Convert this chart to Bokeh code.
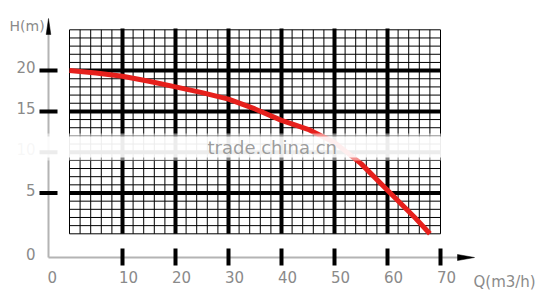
import numpy as np
from bokeh.plotting import figure
from bokeh.models import Range1d
from bokeh.core.properties import value
from bokeh.embed import file_html
from bokeh.resources import INLINE

# ---- data ----
flow = [0, 5, 10, 15, 20, 25, 30, 35, 40, 45, 50, 55, 60, 65, 68]          # Q (m3/h)
head = [20.0, 19.7, 19.3, 18.7, 18.0, 17.3, 16.5, 15.3, 13.9, 12.8, 11.2, 8.6, 5.35, 2.1, 0.0]  # H (m)
x_ticks = [10, 20, 30, 40, 50, 60, 70]
x_tick_labels = ["10", "20", "30", "40", "50", "60", "70"]
y_ticks = [5, 10, 15, 20]
y_tick_labels = ["5", "10", "15", "20"]
zero_label = "0"
x_title = "Q(m3/h)"
y_title = "H(m)"
watermark = "trade.china.cn"

# ---- geometry (pixels -> data) ----
W, H = 547, 308
px_per_q = 5.3
px_per_h = 8.16
x0_px, y0_px = 69.0, 233.3


def qx(px):
    return (px - x0_px) / px_per_q


def hy(py):
    return (y0_px - py) / px_per_h


p = figure(width=W, height=H, output_backend="svg", toolbar_location=None,
           x_range=Range1d(qx(0), qx(W)), y_range=Range1d(hy(H), hy(0)),
           min_border=0, min_border_left=0, min_border_right=0,
           min_border_top=0, min_border_bottom=0)
p.axis.visible = False
p.grid.visible = False
p.outline_line_color = None
p.background_fill_color = "white"
p.border_fill_color = "white"

q_max, h_max = 70, 25

# fine grid
fine_q = [q for q in range(0, q_max + 1, 2) if q % 10 != 0 or q in (0, q_max)]
fine_h = [h for h in range(0, h_max + 1) if h % 5 != 0 or h in (0, h_max)]
p.segment(x0=fine_q, y0=[0] * len(fine_q), x1=fine_q, y1=[h_max] * len(fine_q),
          line_color="black", line_width=1)
p.segment(x0=[0] * len(fine_h), y0=fine_h, x1=[q_max] * len(fine_h), y1=fine_h,
          line_color="black", line_width=1)

# thick grid
thick_q = [q for q in x_ticks if q < q_max]
p.segment(x0=thick_q, y0=[hy(28)] * len(thick_q), x1=thick_q, y1=[0] * len(thick_q),
          line_color="black", line_width=4)
p.segment(x0=[0] * len(y_ticks), y0=y_ticks, x1=[q_max] * len(y_ticks), y1=y_ticks,
          line_color="black", line_width=4)

# pump curve
p.line(flow, head, line_color="#e6201c", line_width=5)

# axes (gray) with arrows
ax_x, ax_y = qx(48), hy(257)
axis_col = "#b4b4b4"
p.segment(x0=[ax_x], y0=[ax_y], x1=[ax_x], y1=[hy(30)], line_color=axis_col, line_width=2)
p.segment(x0=[ax_x], y0=[ax_y], x1=[qx(458)], y1=[ax_y], line_color=axis_col, line_width=2)
p.patch([ax_x - 2.3 / px_per_q, ax_x, ax_x + 2.3 / px_per_q],
        [hy(34), hy(18), hy(34)], fill_color="black", line_color="black", line_width=0.5)
p.patch([qx(457), qx(474), qx(457)],
        [ax_y + 3 / px_per_h, ax_y, ax_y - 3 / px_per_h], fill_color="black",
        line_color="black", line_width=0.5)

# tick marks
p.segment(x0=[qx(39)] * len(y_ticks), y0=y_ticks, x1=[qx(57)] * len(y_ticks), y1=y_ticks,
          line_color="black", line_width=4)
p.segment(x0=x_ticks, y0=[hy(248)] * len(x_ticks), x1=x_ticks, y1=[hy(265)] * len(x_ticks),
          line_color="black", line_width=4)

font = value("DejaVu Sans")
txt_col = "#8a8a8a"
# tick labels
p.text(x=[q - 3.5 / px_per_q for q in x_ticks], y=[hy(276)] * len(x_ticks), text=x_tick_labels,
       text_font=font, text_font_size="15px", text_color=txt_col,
       text_align="left", text_baseline="middle")
p.text(x=[qx(35)] * len(y_ticks), y=[h + 3.5 / px_per_h for h in y_ticks], text=y_tick_labels,
       text_font=font, text_font_size="15px", text_color=txt_col,
       text_align="right", text_baseline="middle")
p.text(x=[qx(47)], y=[hy(276)], text=[zero_label], text_font=font, text_font_size="15px",
       text_color=txt_col, text_align="left", text_baseline="middle")
p.text(x=[qx(35)], y=[hy(253.5)], text=[zero_label], text_font=font, text_font_size="15px",
       text_color=txt_col, text_align="right", text_baseline="middle")
# titles
p.text(x=[qx(9)], y=[hy(25)], text=[y_title], text_font=font, text_font_size="14px",
       text_color=txt_col, text_align="left", text_baseline="middle")
p.text(x=[qx(473)], y=[hy(281)], text=[x_title], text_font=font, text_font_size="15px",
       text_color=txt_col, text_align="left", text_baseline="middle")

# watermark band
p.quad(left=[qx(10)], right=[qx(447)], bottom=[hy(160)], top=[hy(133)],
       fill_color="white", fill_alpha=0.5, line_color=None)
p.quad(left=[qx(12)], right=[qx(446)], bottom=[hy(157)], top=[hy(136)],
       fill_color="white", fill_alpha=0.85, line_color=None)
p.text(x=[qx(207)], y=[hy(147)], text=[watermark], text_font=font, text_font_size="18px",
       text_color="#8c8c8c", text_alpha=0.85, text_align="left", text_baseline="middle")

open("out.html", "w").write(file_html(p, INLINE))
